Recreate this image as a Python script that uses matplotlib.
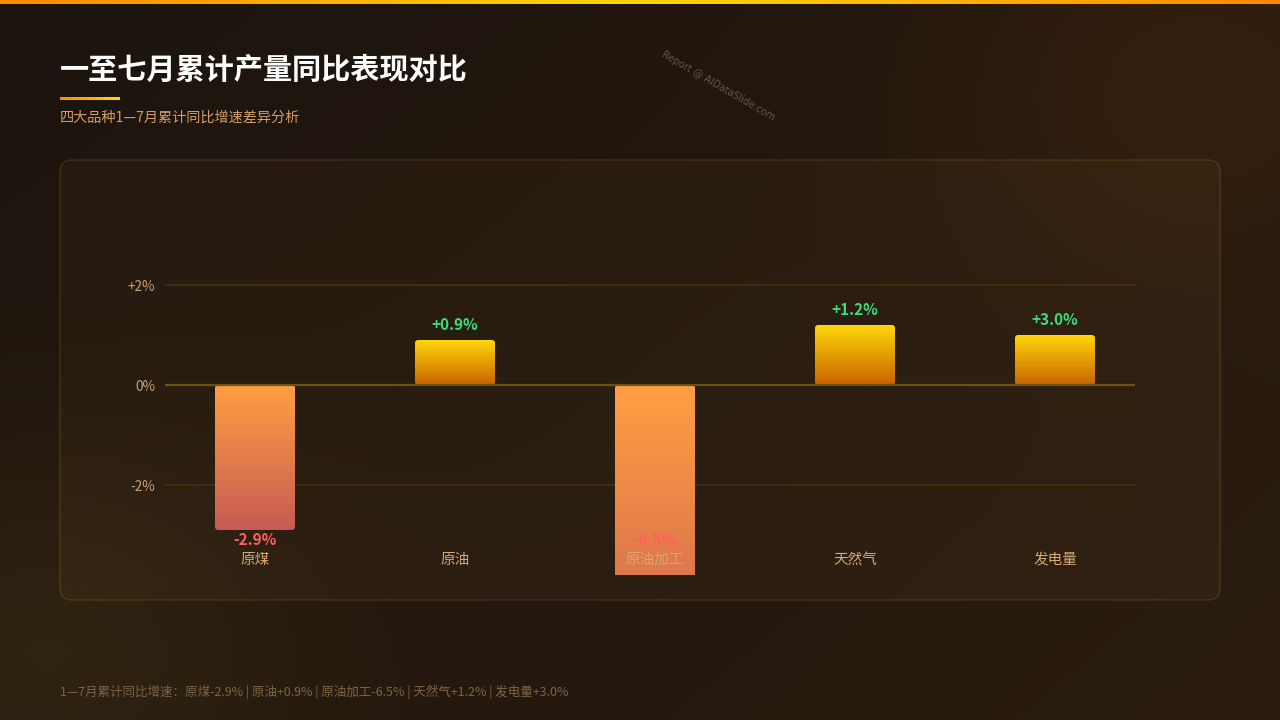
import numpy as np
import matplotlib.pyplot as plt
from matplotlib.patches import FancyBboxPatch
from matplotlib.colors import to_rgb

plt.rcParams['font.family'] = ['Noto Sans CJK SC', 'DejaVu Sans']

# data
categories = ['原煤', '原油', '原油加工', '天然气', '发电量']
bar_values = [-2.9, 0.9, -6.5, 1.2, 1.0]
bar_labels = ['-2.9%', '+0.9%', '-6.5%', '+1.2%', '+3.0%']
ytick_values = [-2, 0, 2]
ytick_labels = ['-2%', '0%', '+2%']

title = '一至七月累计产量同比表现对比'
subtitle = '四大品种1—7月累计同比增速差异分析'
footnote = '1—7月累计同比增速：原煤-2.9% | 原油+0.9% | 原油加工-6.5% | 天然气+1.2% | 发电量+3.0%'

W, H = 1280, 720
fig = plt.figure(figsize=(W / 100, H / 100), dpi=100)

# background gradient with soft glows
bg = fig.add_axes([0, 0, 1, 1], zorder=-10)
bg.set_axis_off()
yy, xx = np.mgrid[0:H:2, 0:W:2]
t = (xx / W * 0.6 + yy / H * 0.4)
c0 = np.array(to_rgb('#1c140e'))
c1 = np.array(to_rgb('#2a1c10'))
img = c0 + (c1 - c0) * t[..., None]
glow1 = np.exp(-(((xx - 1180) / 240) ** 2 + ((yy - 80) / 200) ** 2))
img += glow1[..., None] * (np.array(to_rgb('#43260e')) - c1) * 0.6
glow2 = np.exp(-(((xx - 30) / 260) ** 2 + ((yy - 640) / 200) ** 2))
img += glow2[..., None] * (np.array(to_rgb('#3a2a12')) - c1) * 0.8
bg.imshow(np.clip(img, 0, 1), extent=[0, W, H, 0], aspect='auto', interpolation='bilinear')

# top accent bar
bar_grad = np.zeros((1, 256, 3))
s = np.abs(np.linspace(-1, 1, 256))
orange = np.array(to_rgb('#ff8a00'))
yellow = np.array(to_rgb('#ffd60a'))
bar_grad[0] = yellow + (orange - yellow) * s[:, None]
bg.imshow(bar_grad, extent=[0, W, 4, 0], aspect='auto', zorder=2)

# title underline
line_grad = np.zeros((1, 64, 3))
line_grad[0] = orange + (yellow - orange) * np.linspace(0, 1, 64)[:, None]
bg.imshow(line_grad, extent=[60, 120, 100, 97], aspect='auto', zorder=2)

# card
card = FancyBboxPatch((60, 160), 1160, 440, boxstyle='round,pad=0,rounding_size=12',
                      facecolor=(1.0, 0.72, 0.3, 0.035), edgecolor=(0.8, 0.55, 0.2, 0.2),
                      linewidth=1, zorder=1)
bg.add_patch(card)
bg.set_xlim(0, W)
bg.set_ylim(H, 0)

fig.text(60 / W, 1 - 70 / H, title, fontsize=21, fontweight='bold', color='#ffffff', va='center')
fig.text(60 / W, 1 - 118 / H, subtitle, fontsize=10.2, color='#d39e66', va='center')
fig.text(60 / W, 1 - 692 / H, footnote, fontsize=9.0, color='#7d6444', va='center')
fig.text(718 / W, 1 - 86 / H, 'Report @ AIDataSlide.com', fontsize=7, color='#8a8070', alpha=0.6,
         rotation=-30, ha='center', va='center', family='DejaVu Sans')

# chart axes: 0 at y=385px, 50px per 1%
ax = fig.add_axes([165 / W, 1 - 575 / H, 970 / W, 390 / H])
ax.set_facecolor('none')
for sp in ax.spines.values():
    sp.set_visible(False)
ax.set_xticks([])
ax.set_yticks(ytick_values)
ax.set_yticklabels(ytick_labels, color='#c8a07a', fontsize=9.8)
ax.tick_params(axis='y', length=0, pad=7)
for v in ytick_values:
    if v == 0:
        ax.axhline(v, color='#6b5318', linewidth=1.6, zorder=3)
    else:
        ax.axhline(v, color='#44320f', linewidth=1.2, zorder=0)

bar_w = 0.4
n = 128
aspect = 200.0 / 50.0  # px per unit in x / px per unit in y
for i, (cat, v, lab) in enumerate(zip(categories, bar_values, bar_labels)):
    x0 = i - bar_w / 2
    if v >= 0:
        top_c, bot_c = np.array(to_rgb('#ffd60a')), np.array(to_rgb('#c86400'))
        y0, h = 0, v
    else:
        top_c, bot_c = np.array(to_rgb('#ff9f40')), np.array(to_rgb('#c85a55'))
        y0, h = v, -v
    frac = np.linspace(0, 1, n)[:, None]
    grad = (top_c + (bot_c - top_c) * frac)[:, None, :]
    patch = FancyBboxPatch((x0, y0), bar_w, h, boxstyle='round,pad=0,rounding_size=0.015',
                           mutation_aspect=aspect, facecolor='none', edgecolor='none')
    ax.add_patch(patch)
    im = ax.imshow(grad, extent=[x0, x0 + bar_w, y0, y0 + h], aspect='auto',
                   origin='upper', zorder=2, interpolation='bilinear')
    im.set_clip_path(patch)
    if v >= 0:
        ax.text(i, v + 0.3, lab, ha='center', va='center', fontsize=11, fontweight='bold',
                color='#3ddc7a', zorder=5)
    else:
        ax.text(i, max(v, -2.9) - 0.2, lab, ha='center', va='center', fontsize=11,
                fontweight='bold', color='#ff6161', zorder=5)
    ax.text(i, -3.5, cat, ha='center', va='center', fontsize=10.5, color='#d4a878', zorder=5)

ax.set_xlim(-0.45, 4.4)
ax.set_ylim(-3.8, 4.0)

fig.savefig('out.png', dpi=100)
